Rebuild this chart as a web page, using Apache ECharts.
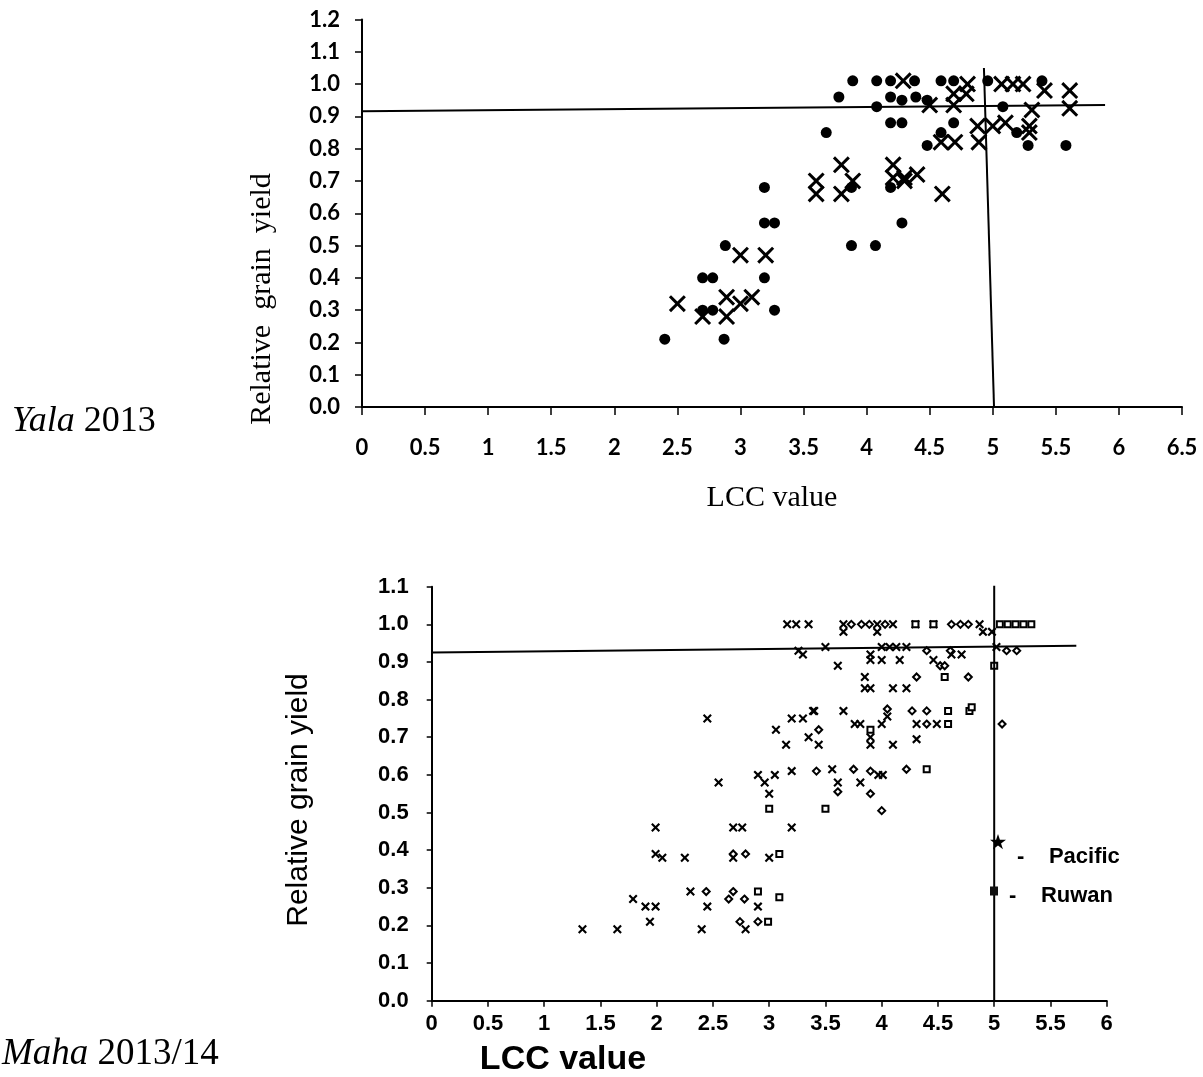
<!DOCTYPE html>
<html>
<head>
<meta charset="utf-8">
<script src="https://cdn.jsdelivr.net/npm/echarts@6/dist/echarts.min.js"></script>
<style>
html,body{margin:0;padding:0;background:#fff;}
#chart{width:1203px;height:1077px;}
</style>
</head>
<body>
<div id="chart"></div>
<script>
// ---------- Yala 2013 (top panel) ----------
const topXTicks = [0,0.5,1,1.5,2,2.5,3,3.5,4,4.5,5,5.5,6,6.5];
const topYTicks = [0.0,0.1,0.2,0.3,0.4,0.5,0.6,0.7,0.8,0.9,1.0,1.1,1.2];
const topCircles = [
  [2.40,0.21],[2.70,0.40],[2.78,0.40],[2.88,0.50],[2.87,0.21],[2.70,0.30],[2.78,0.30],
  [3.19,0.68],[3.19,0.57],[3.27,0.57],[3.19,0.40],[3.27,0.30],
  [3.68,0.85],[3.78,0.96],[3.89,1.01],[3.88,0.68],[3.88,0.50],[4.07,0.50],
  [4.08,1.01],[4.19,1.01],[4.38,1.01],[4.19,0.96],[4.28,0.95],[4.39,0.96],[4.48,0.95],
  [4.08,0.93],[4.19,0.88],[4.28,0.88],[4.19,0.68],[4.28,0.57],
  [4.59,1.01],[4.69,1.01],[4.96,1.01],[5.39,1.01],[5.08,0.93],
  [4.59,0.85],[4.69,0.88],[4.48,0.81],[5.19,0.85],[5.28,0.81],[5.58,0.81]
];
const topCrosses = [
  [2.50,0.32],[3.00,0.47],[2.70,0.28],[2.89,0.34],[2.89,0.28],[3.00,0.32],[3.09,0.34],[3.20,0.47],
  [3.60,0.70],[3.60,0.66],[3.80,0.75],[3.80,0.66],[3.89,0.70],
  [4.29,1.01],[4.50,0.935],[4.21,0.75],[4.21,0.71],[4.30,0.71],[4.30,0.70],[4.40,0.72],[4.60,0.66],
  [4.80,1.00],[5.07,1.00],[5.16,1.00],[5.24,1.00],[5.41,0.98],[5.61,0.98],
  [4.69,0.97],[4.79,0.97],[4.69,0.935],[5.61,0.925],[5.31,0.92],
  [4.59,0.82],[4.70,0.82],[4.88,0.87],[4.89,0.82],[5.00,0.87],[5.10,0.88],[5.29,0.87],[5.29,0.85]
];
const topHLine = [[0,0.916],[5.89,0.935]];
const topVLine = [[4.93,1.05],[5.01,0]];

// ---------- Maha 2013/14 (bottom panel) ----------
const botXTicks = [0,0.5,1,1.5,2,2.5,3,3.5,4,4.5,5,5.5,6];
const botYTicks = [0.0,0.1,0.2,0.3,0.4,0.5,0.6,0.7,0.8,0.9,1.0,1.1];
const botCrosses = [
  [1.34,0.19],[1.65,0.19],[1.94,0.21],[1.79,0.27],[1.90,0.25],[1.99,0.25],[1.99,0.46],[1.99,0.39],
  [2.05,0.38],[2.25,0.38],[2.30,0.29],[2.45,0.75],[2.45,0.25],[2.40,0.19],[2.55,0.58],
  [2.68,0.46],[2.76,0.46],[2.68,0.38],[2.79,0.19],[2.90,0.25],[2.90,0.60],[2.96,0.58],[3.05,0.60],
  [3.00,0.55],[3.00,0.38],[3.20,0.46],[3.20,0.61],[3.15,0.68],[3.06,0.72],[3.20,0.75],[3.30,0.75],
  [3.40,0.77],[3.35,0.70],[3.16,1.00],[3.24,1.00],[3.35,1.00],[3.26,0.93],[3.30,0.92],
  [3.66,1.00],[3.96,1.00],[4.10,1.00],[3.66,0.98],[3.96,0.98],[4.30,1.00],[4.46,1.00],[4.87,1.00],
  [4.90,0.98],[4.98,0.98],[3.50,0.94],[4.00,0.94],[4.07,0.94],[4.13,0.94],[4.22,0.94],
  [3.90,0.92],[3.90,0.905],[4.00,0.905],[3.61,0.89],[4.16,0.905],[4.46,0.905],[4.62,0.92],[4.71,0.92],
  [5.02,0.94],[3.85,0.86],[3.85,0.83],[3.90,0.83],[4.10,0.83],[4.22,0.83],[3.39,0.77],[3.66,0.77],
  [4.05,0.755],[4.00,0.735],[3.76,0.735],[3.81,0.735],[4.31,0.735],[4.49,0.735],[3.44,0.68],
  [3.90,0.70],[3.90,0.68],[4.10,0.68],[4.31,0.695],[3.56,0.615],[3.97,0.60],[4.01,0.60],[3.61,0.58],[3.81,0.58]
];
const botPacific = [
  [2.44,0.29],[2.68,0.29],[2.64,0.27],[2.78,0.27],[2.68,0.39],[2.79,0.39],[2.74,0.21],[2.90,0.21],
  [3.42,0.61],[3.44,0.72],[3.73,1.00],[3.82,1.00],[3.89,1.00],[4.03,1.00],[4.62,1.00],[4.70,1.00],[4.77,1.00],
  [4.40,0.93],[4.61,0.93],[4.52,0.89],[4.56,0.89],[5.11,0.93],[5.20,0.93],[4.31,0.86],[4.77,0.86],
  [4.05,0.775],[4.27,0.77],[4.40,0.77],[4.40,0.735],[3.75,0.615],[3.90,0.61],[4.22,0.615],
  [3.61,0.555],[3.90,0.55],[4.00,0.505],[5.07,0.735]
];
const botRuwan = [
  [2.90,0.29],[2.99,0.21],[3.09,0.275],[3.09,0.39],[3.00,0.51],[3.50,0.51],[3.90,0.72],[4.40,0.615],
  [4.59,0.77],[4.78,0.77],[4.80,0.78],[4.59,0.735],[4.56,0.86],[5.00,0.89],[4.30,1.00],[4.46,1.00],
  [5.05,1.00],[5.12,1.00],[5.19,1.00],[5.26,1.00],[5.33,1.00]
];
const botHLine = [[0,0.925],[5.73,0.943]];
const botVLine = [[5.0,1.11],[5.0,0]];

const legendNames = ['Pacific','Ruwan'];

// ---------- styling ----------
const XTOP = 'path://M0,2.5L2.5,0L10,7.5L17.5,0L20,2.5L12.5,10L20,17.5L17.5,20L10,12.5L2.5,20L0,17.5L7.5,10Z';
const XBOT = 'path://M0,3.4L3.4,0L10,6.6L16.6,0L20,3.4L13.4,10L20,16.6L16.6,20L10,13.4L3.4,20L0,16.6L6.6,10Z';
const STAR = 'path://M10,0L12.4,7.2L20,7.2L13.8,11.8L16.2,19L10,14.5L3.8,19L6.2,11.8L0,7.2L7.6,7.2Z';
const topFont = 'Lato';
const serif = 'Liberation Serif';
const sans = 'Liberation Sans';

function axisCommon(ticks, fmt, font, size, margin, tickLen) {
  return {
    type: 'value',
    min: ticks[0],
    max: ticks[ticks.length - 1],
    interval: Math.round((ticks[1] - ticks[0]) * 100) / 100,
    axisLine: { show: true, onZero: false, lineStyle: { color: '#000', width: 2 } },
    axisTick: { show: true, inside: false, length: tickLen, lineStyle: { color: '#000', width: 1.5 } },
    splitLine: { show: false },
    axisLabel: {
      color: '#000', fontFamily: font, fontWeight: 'bold', fontSize: size, margin: margin,
      formatter: fmt
    }
  };
}

const legendRich = { fontFamily: sans, fontWeight: 'bold', fontSize: 22, color: '#000' };

const chart = echarts.init(document.getElementById('chart'), null, { renderer: 'canvas' });
const option = {
  backgroundColor: '#fff',
  animation: false,
  grid: [
    { left: 362, top: 19.5, width: 820, height: 387.5, containLabel: false },
    { left: 431.7, top: 586.7, width: 675, height: 414, containLabel: false }
  ],
  xAxis: [
    Object.assign(axisCommon(topXTicks, v => String(v), topFont, 22, 30, 8), { gridIndex: 0 }),
    Object.assign(axisCommon(botXTicks, v => String(v), sans, 22, 12, 6), { gridIndex: 1 })
  ],
  yAxis: [
    Object.assign(axisCommon(topYTicks, v => v.toFixed(1), topFont, 22, 22, 7), { gridIndex: 0 }),
    Object.assign(axisCommon(botYTicks, v => v.toFixed(1), sans, 22, 23, 5), { gridIndex: 1 })
  ],
  legend: [
    {
      data: [{ name: legendNames[0], icon: STAR }],
      left: 985, top: 829, itemWidth: 16, itemHeight: 16, itemGap: 0,
      selectedMode: false,
      formatter: n => '{p| -    ' + n + '}',
      textStyle: { rich: { p: Object.assign({ padding: [30, 0, 0, 0] }, legendRich) } },
      itemStyle: { color: '#000', borderWidth: 0 }
    },
    {
      data: [{ name: legendNames[1], icon: 'rect' }],
      left: 985, top: 880, itemWidth: 8, itemHeight: 9, itemGap: 0,
      selectedMode: false,
      formatter: n => '{p| -    ' + n + '}',
      textStyle: { rich: { p: Object.assign({ padding: [10, 0, 0, 0] }, legendRich) } },
      itemStyle: { color: '#111', borderWidth: 0 }
    }
  ],
  graphic: [
    { type: 'text', left: 12, top: 404, style: {
        text: '{i|Yala} 2013', fill: '#000', font: '36px "Liberation Serif"',
        rich: { i: { fontStyle: 'italic', fontFamily: serif, fontSize: 36, fill: '#000' } } } },
    { type: 'text', left: 2, top: 1036, style: {
        text: '{i|Maha} 2013/14', fill: '#000', font: '37px "Liberation Serif"',
        rich: { i: { fontStyle: 'italic', fontFamily: serif, fontSize: 37, fill: '#000' } } } },
    { type: 'text', x: 262, y: 299, rotation: Math.PI / 2, style: {
        text: 'Relative  grain  yield', fill: '#000', font: '30px "Liberation Serif"',
        textAlign: 'center', textVerticalAlign: 'middle' } },
    { type: 'text', x: 772, y: 498, style: {
        text: 'LCC value', fill: '#000', font: '30px "Liberation Serif"',
        textAlign: 'center', textVerticalAlign: 'middle' } },
    { type: 'text', x: 299, y: 800, rotation: Math.PI / 2, style: {
        text: 'Relative grain yield', fill: '#000', font: '30px "Liberation Sans"',
        textAlign: 'center', textVerticalAlign: 'middle' } },
    { type: 'text', x: 563, y: 1060, style: {
        text: 'LCC value', fill: '#000', font: 'bold 34px "Liberation Sans"',
        textAlign: 'center', textVerticalAlign: 'middle' } }
  ],
  series: [
    { type: 'line', xAxisIndex: 0, yAxisIndex: 0, data: topHLine, symbol: 'none', silent: true,
      lineStyle: { color: '#000', width: 2 } },
    { type: 'line', xAxisIndex: 0, yAxisIndex: 0, data: topVLine, symbol: 'none', silent: true,
      lineStyle: { color: '#000', width: 2 } },
    { name: 'circle', type: 'scatter', xAxisIndex: 0, yAxisIndex: 0, data: topCircles,
      symbol: 'circle', symbolSize: 11, itemStyle: { color: '#000', opacity: 1 } },
    { name: 'cross', type: 'scatter', xAxisIndex: 0, yAxisIndex: 0, data: topCrosses,
      symbol: XTOP, symbolSize: 17, itemStyle: { color: '#000', opacity: 1 } },

    { type: 'line', xAxisIndex: 1, yAxisIndex: 1, data: botHLine, symbol: 'none', silent: true,
      lineStyle: { color: '#000', width: 2 } },
    { type: 'line', xAxisIndex: 1, yAxisIndex: 1, data: botVLine, symbol: 'none', silent: true,
      lineStyle: { color: '#000', width: 2 } },
    { name: 'x', type: 'scatter', xAxisIndex: 1, yAxisIndex: 1, data: botCrosses,
      symbol: XBOT, symbolSize: 9, itemStyle: { color: '#000', opacity: 1 } },
    { name: 'Pacific', type: 'scatter', xAxisIndex: 1, yAxisIndex: 1, data: botPacific,
      symbol: 'diamond', symbolSize: 7,
      itemStyle: { color: '#fff', borderColor: '#000', borderWidth: 2, opacity: 1 } },
    { name: 'Ruwan', type: 'scatter', xAxisIndex: 1, yAxisIndex: 1, data: botRuwan,
      symbol: 'rect', symbolSize: 6,
      itemStyle: { color: '#fff', borderColor: '#000', borderWidth: 2, opacity: 1 } }
  ]
};
chart.setOption(option);
</script>
</body>
</html>
